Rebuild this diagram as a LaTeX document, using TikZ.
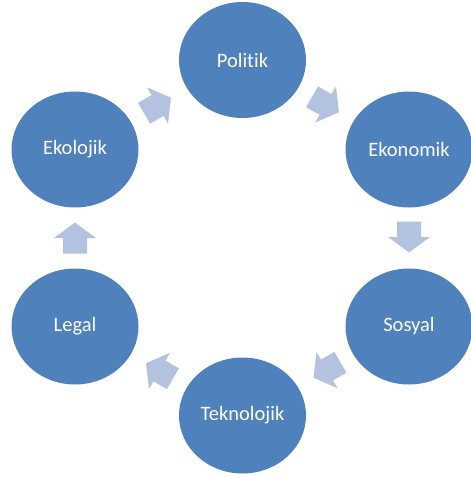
\documentclass[tikz,border=0pt]{standalone}
\usepackage{fontspec}
\setmainfont[Ligatures=NoCommon]{Carlito}
\usetikzlibrary{shapes.geometric}
\definecolor{nodeblue}{HTML}{4F81BD}
\definecolor{arrowblue}{HTML}{B3C2DE}
\begin{document}
\begin{tikzpicture}[x=1pt,y=-1pt,
  stage/.style={ellipse, fill=nodeblue, text=white, minimum width=127pt, minimum height=116pt, inner sep=0pt, font=\fontsize{20.5}{24}\selectfont},
  cyclearrow/.pic={\fill[arrowblue] (-15.5,-12) -- (0,-12) -- (0,-21) -- (15.5,0) -- (0,21) -- (0,12) -- (-15.5,12) -- cycle;}]
\useasboundingbox (0,0) rectangle (471,477);
\node[stage] (politik) at (242.5,60) {Politik};
\node[stage] (ekonomik) at (409,149.5) {Ekonomik};
\node[stage] (sosyal) at (409,326.5) {Sosyal};
\node[stage] (teknolojik) at (242.5,415.5) {Teknolojik};
\node[stage] (legal) at (75,326.5) {Legal};
\node[stage] (ekolojik) at (75,149.5) {Ekolojik};
\pic[rotate=30] at (157.5,105.5) {cyclearrow};
\pic[rotate=-30] at (325.5,104.5) {cyclearrow};
\pic[rotate=-90] at (409,237) {cyclearrow};
\pic[rotate=-150] at (327,370) {cyclearrow};
\pic[rotate=150] at (159.5,371) {cyclearrow};
\pic[rotate=90] at (75,238) {cyclearrow};
\end{tikzpicture}
\end{document}
